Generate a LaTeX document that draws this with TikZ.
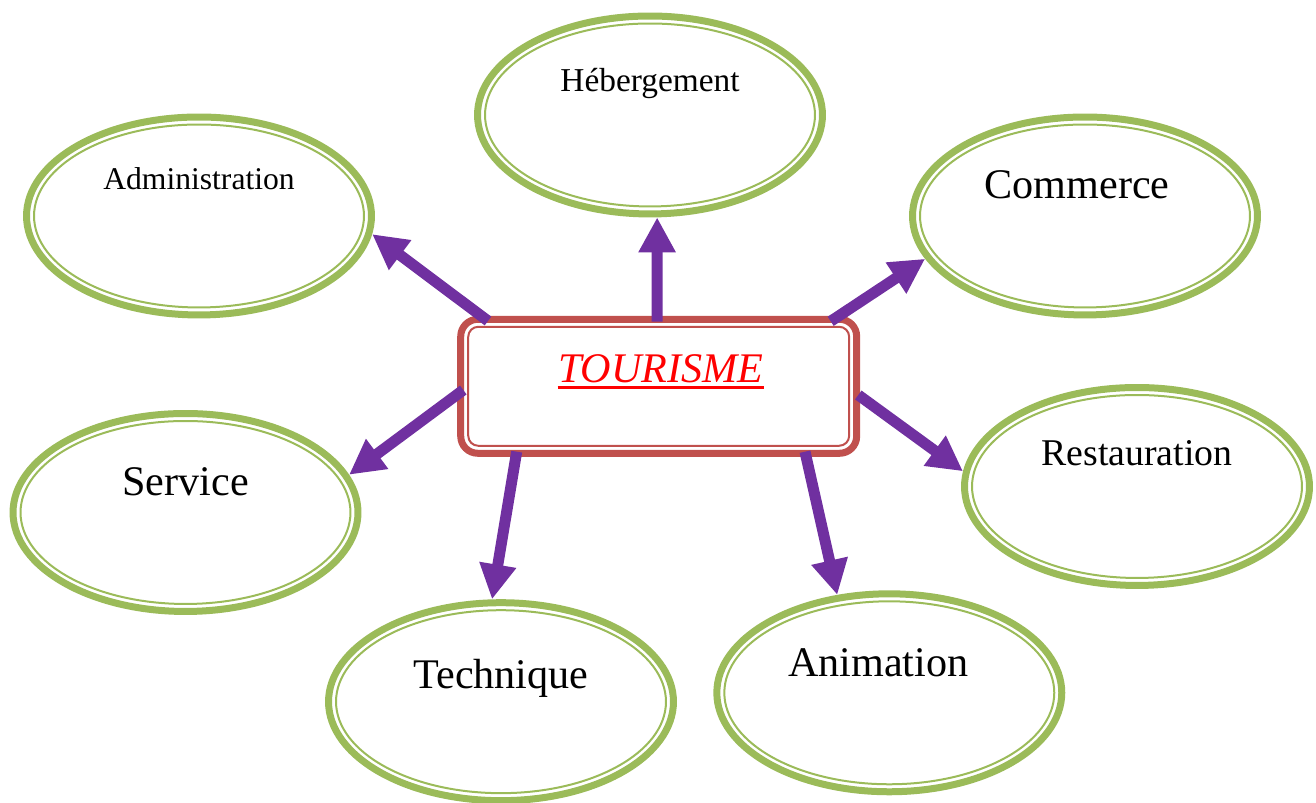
\documentclass[tikz,border=0pt]{standalone}
\usepackage{fontspec}
\setmainfont{Liberation Serif}
\usetikzlibrary{shapes.geometric,arrows.meta}
\definecolor{olivegreen}{HTML}{9BBB59}
\definecolor{boxred}{HTML}{C0504D}
\definecolor{arrowpurple}{HTML}{7030A0}
\tikzset{
  mybubble/.style={ellipse,draw=olivegreen,line width=0.14cm,minimum width=6.9cm,minimum height=3.96cm,inner sep=0pt},
  mybubblein/.style={ellipse,draw=olivegreen,line width=0.04cm,minimum width=6.6cm,minimum height=3.66cm,inner sep=0pt},
  mybox/.style={rectangle,draw=boxred,line width=0.14cm,rounded corners=0.34cm,minimum width=7.92cm,minimum height=2.68cm,inner sep=0pt},
  myboxin/.style={rectangle,draw=boxred,line width=0.04cm,rounded corners=0.2cm,minimum width=7.62cm,minimum height=2.38cm,inner sep=0pt},
  myarrow/.style={draw=arrowpurple,line width=0.22cm,-{Triangle[length=0.7cm,width=0.7cm]}}
}
\begin{document}
\begin{tikzpicture}[x=0.02cm,y=0.02cm]
\useasboundingbox (0,0) rectangle (1316,803);
% les bulles
\foreach \nm/\px/\py/\txt/\fs/\dx/\dy in {adm/199/587/Administration/18/0/26,
    heb/650/688/Hébergement/19/0/23,
    com/1085/587/Commerce/24/-8/17,
    res/1137/316.5/Restauration/21.5/0/21,
    ser/185.5/290.5/Service/24/0/17,
    tec/501/101.3/Technique/24/0/13,
    ani/889.3/110.2/Animation/24/-11/16}{
  \node[mybubble] (\nm) at (\px,\py) {};
  \node[mybubblein] (\nm-in) at (\nm) {};
  \node[anchor=base,inner sep=0pt,font=\fontsize{\fs}{\fs}\selectfont] (\nm-t) at ([shift={(\dx,\dy)}]\nm.center) {\txt};
}
% le cadre central
\node[mybox] (tour) at (658.7,416.7) {};
\node[myboxin] (tour-in) at (tour) {};
\node[anchor=base,inner sep=0pt,text=red,font=\fontsize{24}{24}\selectfont\itshape] (tour-t) at ([shift={(2,4)}]tour.center) {TOURISME};
\draw[red,line width=0.05cm] ([yshift=-0.1cm]tour-t.base west) -- ([yshift=-0.1cm]tour-t.base east);
% les fleches
\draw[myarrow] ([shift={(-170.7,65.3)}]tour.center) -- (adm.-6);
\draw[myarrow] ([shift={(-1.7,64.6)}]tour.center) -- (heb.-86);
\draw[myarrow] ([shift={(172,65)}]tour.center) -- (com.195.4);
\draw[myarrow] ([shift={(199.6,-8.7)}]tour.center) -- (res.175.6);
\draw[myarrow] ([shift={(146.3,-65.4)}]tour.center) -- (ani.118.6);
\draw[myarrow] ([shift={(-142,-65.4)}]tour.center) -- (tec.95);
\draw[myarrow] ([shift={(-195.4,-3.7)}]tour.center) -- (ser.13.2);
\end{tikzpicture}
\end{document}
